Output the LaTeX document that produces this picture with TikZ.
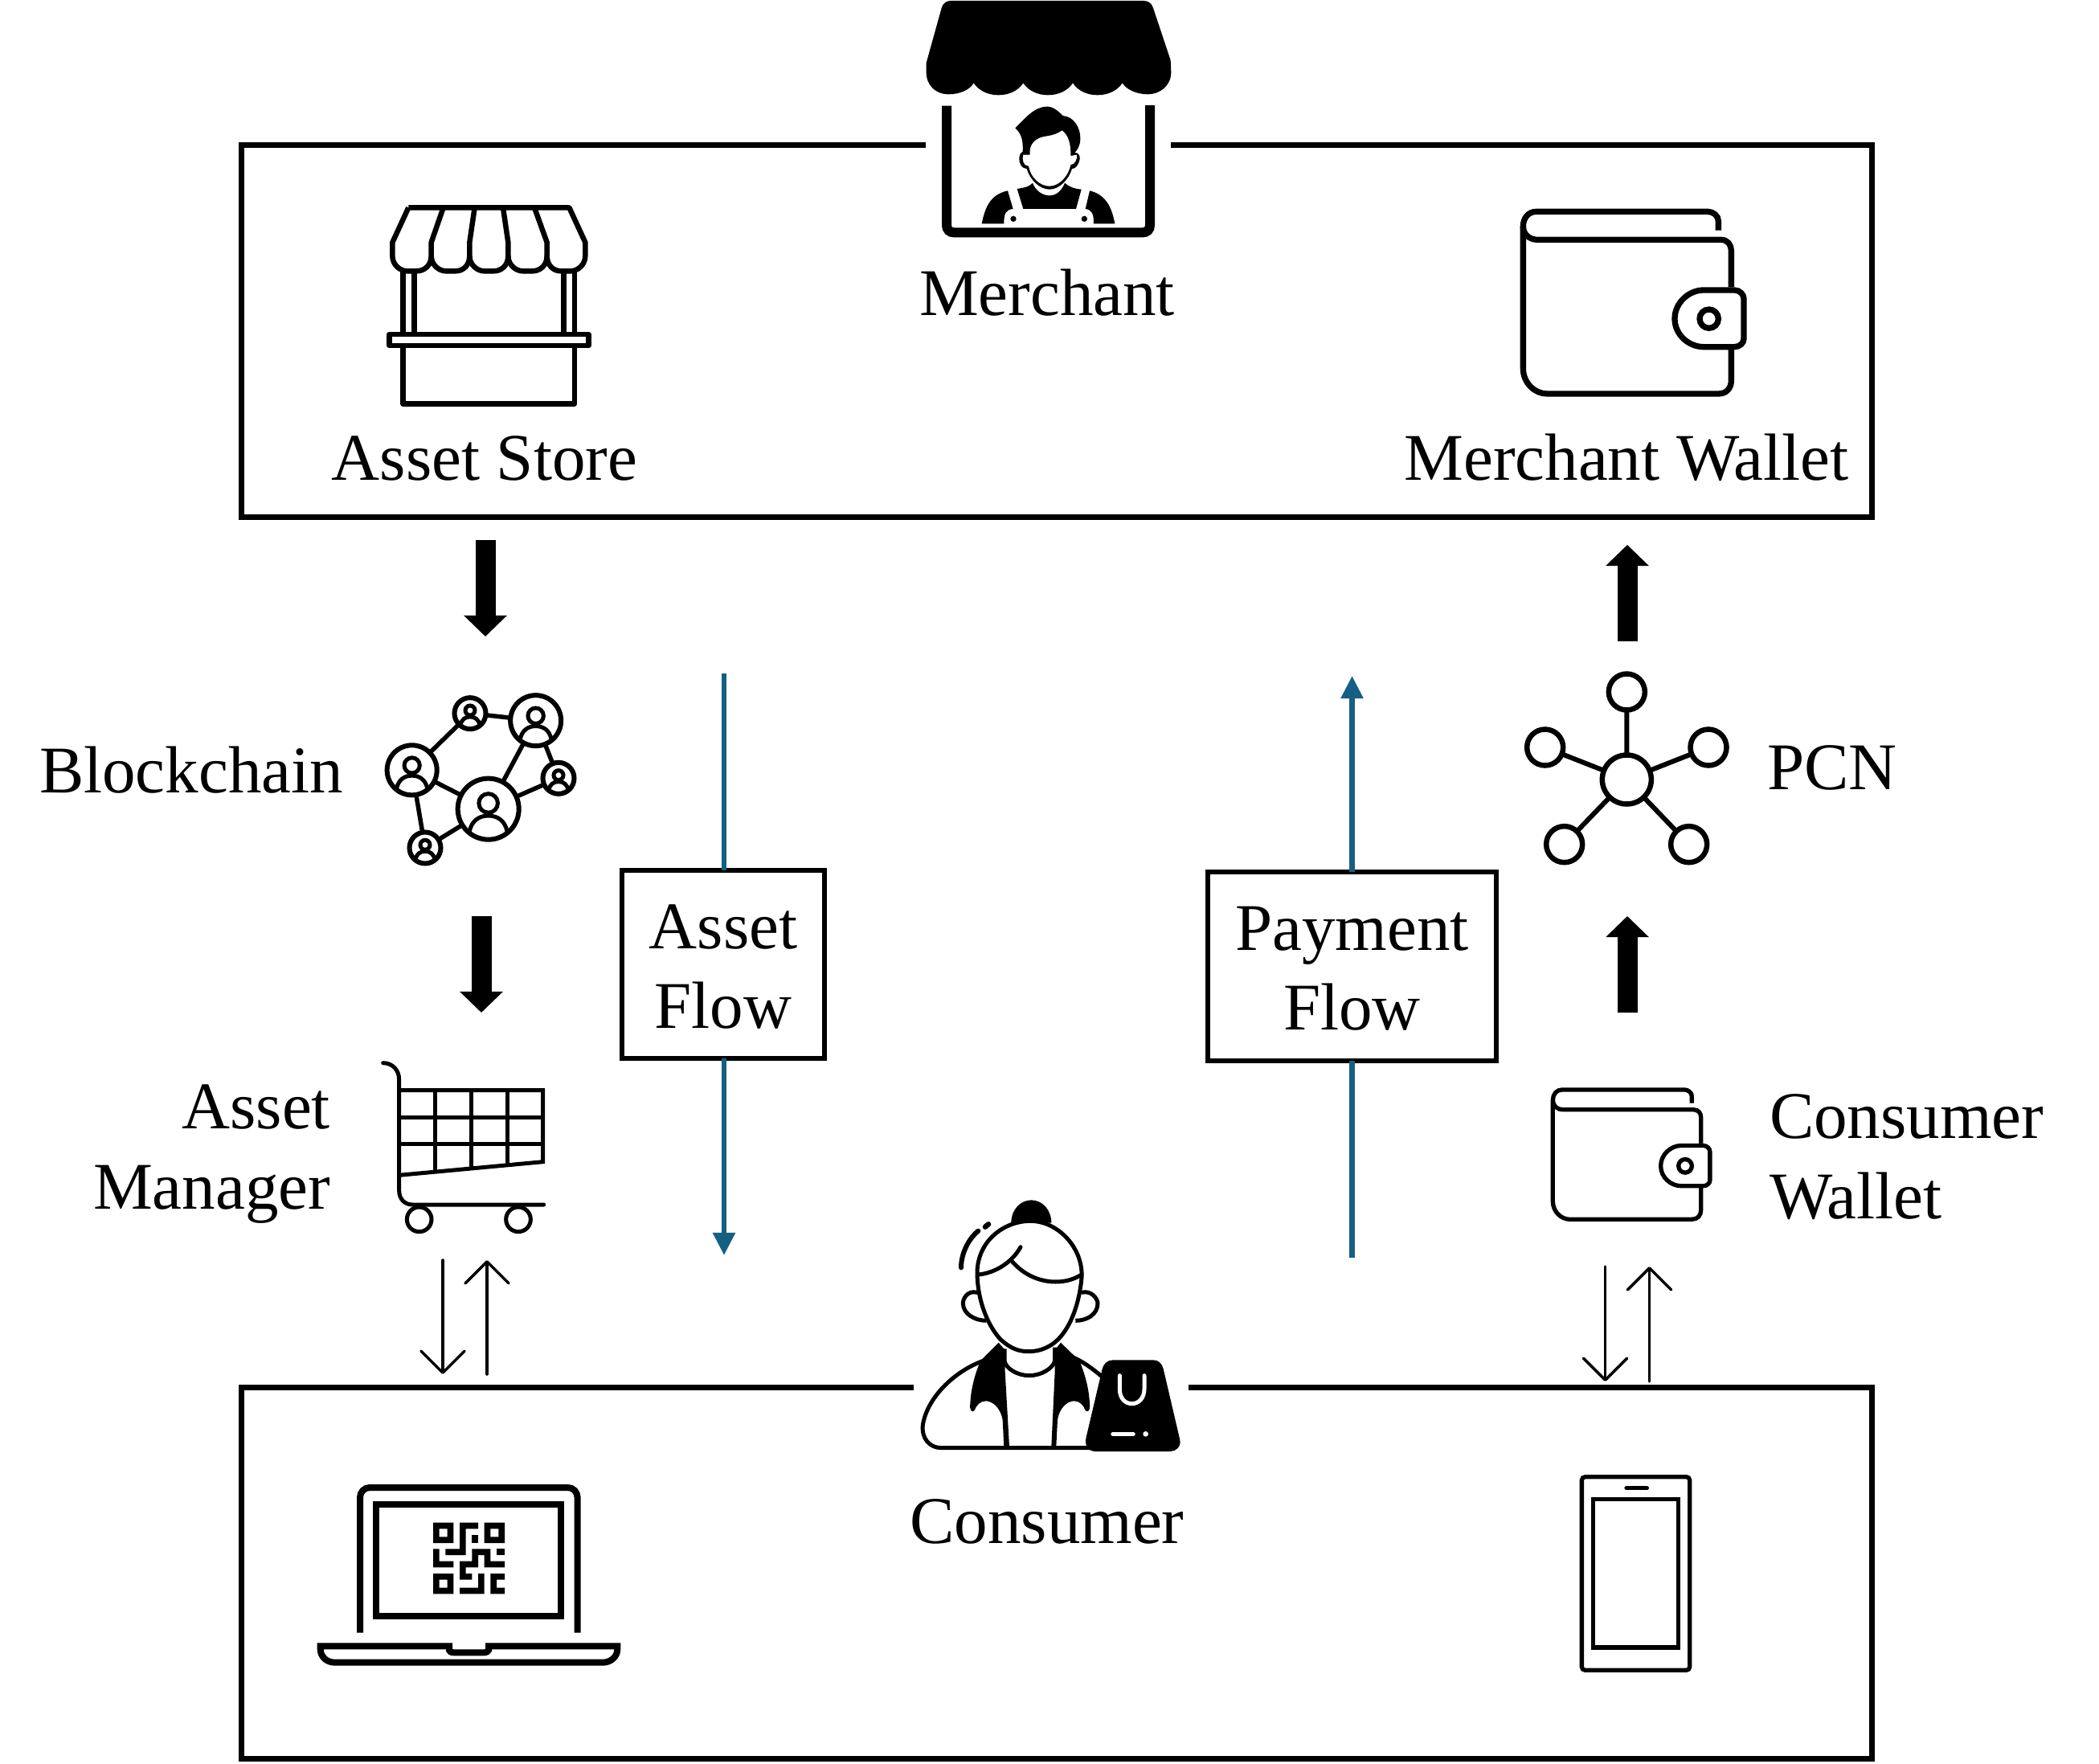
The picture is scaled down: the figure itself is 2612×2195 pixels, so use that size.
\documentclass[tikz,border=0pt]{standalone}
\usepackage{fontspec}
\setmainfont{Liberation Serif}
\usetikzlibrary{arrows.meta}
\definecolor{flowblue}{HTML}{156082}
\newcommand\dn[1]{\raisebox{-0.85pt}[\height][\depth]{#1}}
\tikzset{
  lw/.style={line width=#1*0.2845pt},
  label/.style={anchor=base,inner sep=0pt,outer sep=0pt,font=\fontsize{23.6}{28.2}\selectfont},
  flowbox/.style={draw,lw=6,inner sep=0pt,outer sep=0pt,align=center,font=\fontsize{23.6}{28.2}\selectfont},
  frame/.style={lw=7,miter limit=10},
  thick arrow/.style={lw=25,-{Triangle[width=14.8pt,length=7.4pt]}},
  thin arrow/.style={lw=3.5,line cap=round,line join=round,-{Straight Barb[width=15.4pt,length=7.7pt,round,line width=1pt]}},
  flow line/.style={draw=flowblue,lw=6.5},
  flow arrow/.style={draw=flowblue,lw=6.5,-{Triangle[width=7.6pt,length=8pt]}},
  icon/.style={lw=#1,line join=round},
  netc/.style={circle,draw,lw=6,inner sep=0pt,outer sep=0pt},
}
\newcommand\netuser[3]{\begin{scope}[shift={(#1,#2)},scale=#3/100]
  \draw[lw=5] (0,-19) circle[radius=31];
  \draw[lw=5] (-62,75) .. controls (-55,38) and (-30,22) .. (0,22) .. controls (30,22) and (55,38) .. (62,75);
\end{scope}}
\newcommand\walletshape[1]{%
  \draw[lw=#1] (775,140) -- (775,105) .. controls (775,85) and (755,70) .. (735,70) -- (95,70) .. controls (65,70) and (46,95) .. (46,125) -- (46,655) .. controls (46,710) and (90,750) .. (135,750) -- (775,750) .. controls (805,750) and (823,730) .. (823,700) -- (823,585);
  \draw[lw=#1] (46,125) .. controls (46,155) and (70,175) .. (100,175) -- (785,175) .. controls (810,175) and (823,195) .. (823,215) -- (823,352);
  \draw[lw=#1] (720,363) -- (835,363) .. controls (855,363) and (870,380) .. (870,395) -- (870,545) .. controls (870,560) and (855,575) .. (835,575) -- (720,575) .. controls (665,575) and (612,530) .. (612,470) .. controls (612,410) and (665,363) .. (720,363) -- cycle;
  \draw[lw=#1] (740,470) circle[radius=35];
}
\begin{document}
\begin{tikzpicture}[x=0.01cm,y=-0.01cm]
\useasboundingbox (0,0) rectangle (2612,2195);

% frames
\draw[frame] (1152,180.5) -- (300,180.5) -- (300,644) -- (2329,644) -- (2329,180.5) -- (1457,180.5);
\draw[frame] (1137,1726) -- (300,1726) -- (300,2188) -- (2329,2188) -- (2329,1726) -- (1479,1726);

% labels
\node[label] (merchant) at (1303,393) {Merchant};
\node[label] (assetstore) at (603,598) {Asset Store};
\node[label] (merchantwallet) at (2024,598) {Merchant Wallet};
\node[label] (blockchain) at (238,987) {Blockchain};
\node[label] (pcn) at (2280,982) {PCN};
\node[label] (consumer) at (1303,1920) {Consumer};
\node[label,align=right,anchor=base east] (assetmanager) at (411,1504) {Asset\\Manager};
\node[label,align=left,anchor=base west] (consumerwallet) at (2202,1516) {Consumer\\Wallet};

% flow boxes
\node[flowbox,minimum width=251*0.2845pt,minimum height=233*0.2845pt] (assetflow) at (900,1200) {\dn{Asset}\\\dn{Flow}};
\node[flowbox,minimum width=358*0.2845pt,minimum height=235*0.2845pt] (paymentflow) at (1682.5,1202.5) {\dn{Payment}\\\dn{Flow}};

% flow arrows
\coordinate (assettop) at (901,838);
\coordinate (assetend) at (901,1562);
\coordinate (paystart) at (1682.5,1565);
\coordinate (payend) at (1682.5,841);
\draw[flow line] (assettop) -- (assettop |- assetflow.north);
\draw[flow arrow] (assetend |- assetflow.south) -- (assetend);
\draw[flow line] (paystart) -- (paymentflow.south);
\draw[flow arrow] (paymentflow.north) -- (payend);

% thick arrows
\coordinate (ta1s) at (604,672); \coordinate (ta1e) at (604,792);
\coordinate (ta2s) at (599,1140); \coordinate (ta2e) at (599,1260);
\coordinate (ta3s) at (2025,798); \coordinate (ta3e) at (2025,678);
\coordinate (ta4s) at (2025,1260); \coordinate (ta4e) at (2025,1140);
\draw[thick arrow] (ta1s) -- (ta1e);
\draw[thick arrow] (ta2s) -- (ta2e);
\draw[thick arrow] (ta3s) -- (ta3e);
\draw[thick arrow] (ta4s) -- (ta4e);

% thin arrows
\coordinate (th1s) at (551,1568); \coordinate (th1e) at (551,1710);
\coordinate (th2s) at (606,1710); \coordinate (th2e) at (606,1568);
\coordinate (th3s) at (1997.5,1576); \coordinate (th3e) at (1997.5,1719);
\coordinate (th4s) at (2052.5,1719); \coordinate (th4e) at (2052.5,1576);
\draw[thin arrow] (th1s) -- (th1e);
\draw[thin arrow] (th2s) -- (th2e);
\draw[thin arrow] (th3s) -- (th3e);
\draw[thin arrow] (th4s) -- (th4e);

% merchant icon
\begin{scope}[shift={(1100,0)},scale=1/3]
  \fill (158,235) -- (215,30) .. controls (220,10) and (235,3) .. (250,3) -- (970,3) .. controls (990,3) and (1000,15) .. (1005,30) -- (1070,225) -- (1072,270) .. controls (1072,320) and (1030,352) .. (985,352) .. controls (945,352) and (905,335) .. (890,310) .. controls (870,340) and (835,355) .. (797,355) .. controls (760,355) and (725,340) .. (705,310) .. controls (685,340) and (650,355) .. (612,355) .. controls (575,355) and (540,340) .. (520,310) .. controls (500,340) and (465,355) .. (427,355) .. controls (390,355) and (355,340) .. (335,310) .. controls (320,335) and (285,352) .. (240,352) .. controls (195,352) and (158,320) .. (158,270) -- cycle;
  \draw[lw=12] (234,395) -- (234,840) .. controls (234,858) and (245,868) .. (262,868) -- (965,868) .. controls (982,868) and (993,858) .. (993,840) -- (993,393);
  % head
  \fill (490,478) .. controls (530,440) and (560,398) .. (610,398) .. controls (635,398) and (655,420) .. (668,432) .. controls (710,435) and (735,480) .. (733,520) .. controls (732,545) and (722,560) .. (712,570) .. controls (732,570) and (735,590) .. (728,605) .. controls (722,622) and (712,630) .. (702,630) .. controls (690,670) and (655,707) .. (618,707) .. controls (580,707) and (545,670) .. (533,630) .. controls (515,630) and (503,610) .. (505,590) .. controls (507,575) and (510,570) .. (518,566) .. controls (520,530) and (515,500) .. (490,478) -- cycle;
  \fill[white] (545,578) .. controls (540,540) and (565,512) .. (610,508) .. controls (630,505) and (650,498) .. (665,487) .. controls (688,505) and (698,535) .. (697,582) -- (720,578) .. controls (722,595) and (712,615) .. (697,615) .. controls (690,655) and (655,695) .. (618,695) .. controls (585,695) and (548,665) .. (540,620) .. controls (520,620) and (515,595) .. (520,578) -- cycle;
  % body
  \fill (365,835) .. controls (380,760) and (405,725) .. (462,712) -- (482,780) .. controls (455,783) and (448,795) .. (448,835) -- cycle;
  \fill (862,835) .. controls (848,760) and (820,725) .. (768,712) -- (752,780) .. controls (775,783) and (783,795) .. (783,835) -- cycle;
  \fill (497,705) .. controls (530,700) and (545,695) .. (555,683) .. controls (565,710) and (590,730) .. (618,730) .. controls (645,730) and (665,710) .. (675,683) .. controls (690,697) and (710,705) .. (737,707) -- (717,780) -- (520,780) -- cycle;
  \fill (483,817) circle[radius=11];
  \fill (748,817) circle[radius=11];
\end{scope}

% asset store icon
\begin{scope}[shift={(440,230)},scale=1/3]
  \draw[icon=6.5] (205,85) -- (805,85) -- (865,215) -- (865,265) .. controls (865,300) and (835,322) .. (810,322) -- (775,322) .. controls (745,322) and (722,300) .. (722,265) -- (722,215) -- (675,85);
  \draw[icon=6.5] (205,85) -- (145,215) -- (145,265) .. controls (145,300) and (175,322) .. (200,322) -- (235,322) .. controls (265,322) and (290,300) .. (290,265) -- (290,215) -- (335,85);
  \draw[icon=6.5] (290,265) .. controls (290,300) and (320,322) .. (345,322) -- (380,322) .. controls (410,322) and (433,300) .. (433,265) -- (433,215) -- (452,85);
  \draw[icon=6.5] (433,265) .. controls (433,300) and (463,322) .. (488,322) -- (523,322) .. controls (553,322) and (577,300) .. (577,265) -- (577,215) -- (558,85);
  \draw[icon=6.5] (577,265) .. controls (577,300) and (607,322) .. (632,322) -- (667,322) .. controls (697,322) and (722,300) .. (722,265);
  \draw[icon=6.5] (185,322) -- (185,558);
  \draw[icon=6.5] (227,322) -- (227,558);
  \draw[icon=6.5] (785,322) -- (785,558);
  \draw[icon=6.5] (825,322) -- (825,558);
  \draw[icon=6.5] (133,558) rectangle (877,600);
  \draw[icon=6.5] (185,600) rectangle (825,817);
\end{scope}

% merchant wallet icon
\begin{scope}[shift={(1880,240)},scale=1/3]
  \walletshape{7.3}
\end{scope}

% blockchain icon
\begin{scope}[shift={(440,840)},scale=1/3]
  \node[netc,minimum size=62*0.2845pt] (nA) at (218,355) {};
  \node[netc,minimum size=39*0.2845pt] (nB) at (435,143) {};
  \node[netc,minimum size=63*0.2845pt] (nC) at (680,170) {};
  \node[netc,minimum size=39*0.2845pt] (nD) at (765,385) {};
  \node[netc,minimum size=76*0.2845pt] (nE) at (503,500) {};
  \node[netc,minimum size=39*0.2845pt] (nF) at (267,645) {};
  \draw[lw=5.5] (nA) -- (nB);
  \draw[lw=5.5] (nB) -- (nC);
  \draw[lw=5.5] (nC) -- (nD);
  \draw[lw=5.5] (nC) -- (nE);
  \draw[lw=5.5] (nD) -- (nE);
  \draw[lw=5.5] (nA) -- (nE);
  \draw[lw=5.5] (nA) -- (nF);
  \draw[lw=5.5] (nE) -- (nF);
  \netuser{218}{355}{93}
  \netuser{435}{143}{58}
  \netuser{680}{170}{94}
  \netuser{765}{385}{58}
  \netuser{503}{500}{114}
  \netuser{267}{645}{58}
\end{scope}

% PCN icon
\begin{scope}[shift={(1880,830)},scale=1/3]
  \node[netc,lw=6.5,minimum size=61*0.2845pt] (pc) at (433,420) {};
  \node[netc,lw=6.5,minimum size=45*0.2845pt] (p1) at (433,93) {};
  \node[netc,lw=6.5,minimum size=45*0.2845pt] (p2) at (128,300) {};
  \node[netc,lw=6.5,minimum size=45*0.2845pt] (p3) at (738,300) {};
  \node[netc,lw=6.5,minimum size=45*0.2845pt] (p4) at (200,662) {};
  \node[netc,lw=6.5,minimum size=45*0.2845pt] (p5) at (665,662) {};
  \draw[lw=6] (pc) -- (p1);
  \draw[lw=6] (pc) -- (p2);
  \draw[lw=6] (pc) -- (p3);
  \draw[lw=6] (pc) -- (p4);
  \draw[lw=6] (pc) -- (p5);
\end{scope}

% cart icon
\begin{scope}[shift={(460,1300)},scale=1/3]
  \draw[lw=5,line cap=round] (50,68) .. controls (85,68) and (110,95) .. (110,130) -- (110,545) .. controls (110,575) and (130,597) .. (160,597) -- (650,597);
  \draw[lw=5] (110,170) -- (647,170) -- (647,437) -- (110,487);
  \draw[lw=5] (110,270) -- (647,270);
  \draw[lw=5] (110,370) -- (647,370);
  \draw[lw=5] (245,170) -- (245,467);
  \draw[lw=5] (379,170) -- (379,456);
  \draw[lw=5] (513,170) -- (513,445);
  \draw[lw=5] (185,652) circle[radius=46];
  \draw[lw=5] (555,652) circle[radius=46];
\end{scope}

% consumer wallet icon
\begin{scope}[shift={(1921.4,1339.3)},scale=0.2373]
  \walletshape{5.3}
\end{scope}

% consumer icon
\begin{scope}[shift={(1120,1480)},scale=1/3]
  \fill (415,125) .. controls (415,75) and (450,40) .. (490,40) .. controls (530,40) and (565,75) .. (565,125) -- cycle;
  \draw[lw=5,fill=white] (487,118) .. controls (390,118) and (290,190) .. (288,310) .. controls (288,400) and (320,500) .. (375,560) .. controls (420,600) and (450,605) .. (482,605) .. controls (520,605) and (560,590) .. (590,560) .. controls (640,510) and (670,420) .. (678,330) .. controls (685,220) and (590,118) .. (487,118) -- cycle;
  \draw[lw=5,line cap=round] (295,318) .. controls (360,310) and (420,270) .. (450,215);
  \draw[lw=5,line cap=round] (415,265) .. controls (465,325) and (530,345) .. (580,345) .. controls (620,345) and (650,335) .. (678,318);
  \draw[lw=6,line cap=round] (228,292) .. controls (228,240) and (255,185) .. (292,155);
  \draw[lw=6.5,line cap=round] (318,140) -- (330,130);
  \draw[lw=5] (288,385) .. controls (250,375) and (235,410) .. (235,425) .. controls (235,465) and (280,490) .. (322,490);
  \draw[lw=5] (678,385) .. controls (715,375) and (738,410) .. (738,425) .. controls (738,465) and (700,490) .. (655,490);
  \draw[lw=5] (390,595) -- (390,640) .. controls (395,670) and (440,695) .. (482,695) .. controls (525,695) and (570,670) .. (578,640) -- (578,590);
  \fill (368,572) -- (392,600) -- (392,680) -- (408,960) -- (388,960) -- (383,860) .. controls (375,815) and (345,790) .. (320,790) .. controls (300,790) and (285,805) .. (278,825) .. controls (270,835) and (258,825) .. (262,800) .. controls (265,740) and (280,690) .. (300,640) -- cycle;
  \fill (600,572) -- (578,600) -- (578,680) -- (565,960) -- (583,960) -- (588,860) .. controls (595,815) and (625,790) .. (650,790) .. controls (670,790) and (685,805) .. (692,825) .. controls (700,835) and (712,825) .. (708,800) .. controls (705,740) and (690,690) .. (670,640) -- cycle;
  \draw[lw=5] (310,640) .. controls (200,680) and (100,780) .. (85,880) .. controls (80,930) and (110,965) .. (155,965) -- (720,965);
  \draw[lw=5] (640,625) .. controls (680,640) and (720,670) .. (755,700);
  \fill (795,637) -- (945,637) .. controls (965,637) and (978,650) .. (983,670) -- (1045,935) .. controls (1050,960) and (1030,978) .. (1010,978) -- (730,978) .. controls (700,978) and (688,955) .. (695,925) -- (755,670) .. controls (760,650) and (775,637) .. (795,637) -- cycle;
  \draw[white,lw=5,line cap=round] (820,695) -- (820,745) .. controls (820,780) and (840,800) .. (866,800) .. controls (890,800) and (912,780) .. (912,745) -- (912,695);
  \draw[white,lw=5.5,line cap=round] (795,913) -- (870,913);
  \fill[white] (917,913) circle[radius=10];
\end{scope}

% laptop icon
\begin{scope}[shift={(380,1820)},scale=1/3]
  \draw[lw=8] (204,635) -- (204,130) .. controls (204,110) and (220,93) .. (240,93) -- (980,93) .. controls (1000,93) and (1016,110) .. (1016,130) -- (1016,635);
  \draw[lw=8] (265,155) rectangle (955,574);
  \draw[lw=8] (56,685) -- (537,685) -- (537,700) .. controls (537,705) and (545,709) .. (555,709) -- (665,709) .. controls (675,709) and (684,705) .. (684,700) -- (684,685) -- (1165,685) -- (1165,695) .. controls (1165,725) and (1140,746) .. (1110,746) -- (110,746) .. controls (80,746) and (56,725) .. (56,695) -- cycle;
  \fill[even odd rule] (477,224) rectangle (553,300) (500,247) rectangle (530,277);
  \fill[even odd rule] (668,224) rectangle (744,300) (691,247) rectangle (721,277);
  \fill[even odd rule] (477,414) rectangle (553,490) (500,437) rectangle (530,467);
  \fill (576,224) -- (645,224) -- (645,247) -- (599,247) -- (599,345) -- (523,345) -- (523,322) -- (576,322) -- cycle;
  \fill (622,270) rectangle (645,300);
  \fill (477,322) -- (500,322) -- (500,368) -- (553,368) -- (553,391) -- (477,391) -- cycle;
  \fill (576,368) -- (622,368) -- (622,322) -- (691,322) -- (691,368) -- (744,368) -- (744,391) -- (668,391) -- (668,345) -- (645,345) -- (645,391) -- (599,391) -- (599,414) -- (622,414) -- (622,437) -- (576,437) -- cycle;
  \fill (714,322) rectangle (744,345);
  \fill (576,467) -- (645,467) -- (645,414) -- (668,414) -- (668,490) -- (576,490) -- cycle;
  \fill (691,414) -- (744,414) -- (744,437) -- (714,437) -- (714,467) -- (744,467) -- (744,490) -- (691,490) -- cycle;
\end{scope}

% phone icon
\begin{scope}[shift={(1900,1780)},scale=1/3]
  \draw[lw=5.3,rounded corners=1.2pt] (205,173) rectangle (608,895);
  \draw[lw=5.3] (247,257) rectangle (565,810);
  \draw[lw=5.3,line cap=round] (372,215) -- (448,215);
\end{scope}
\end{tikzpicture}
\end{document}
